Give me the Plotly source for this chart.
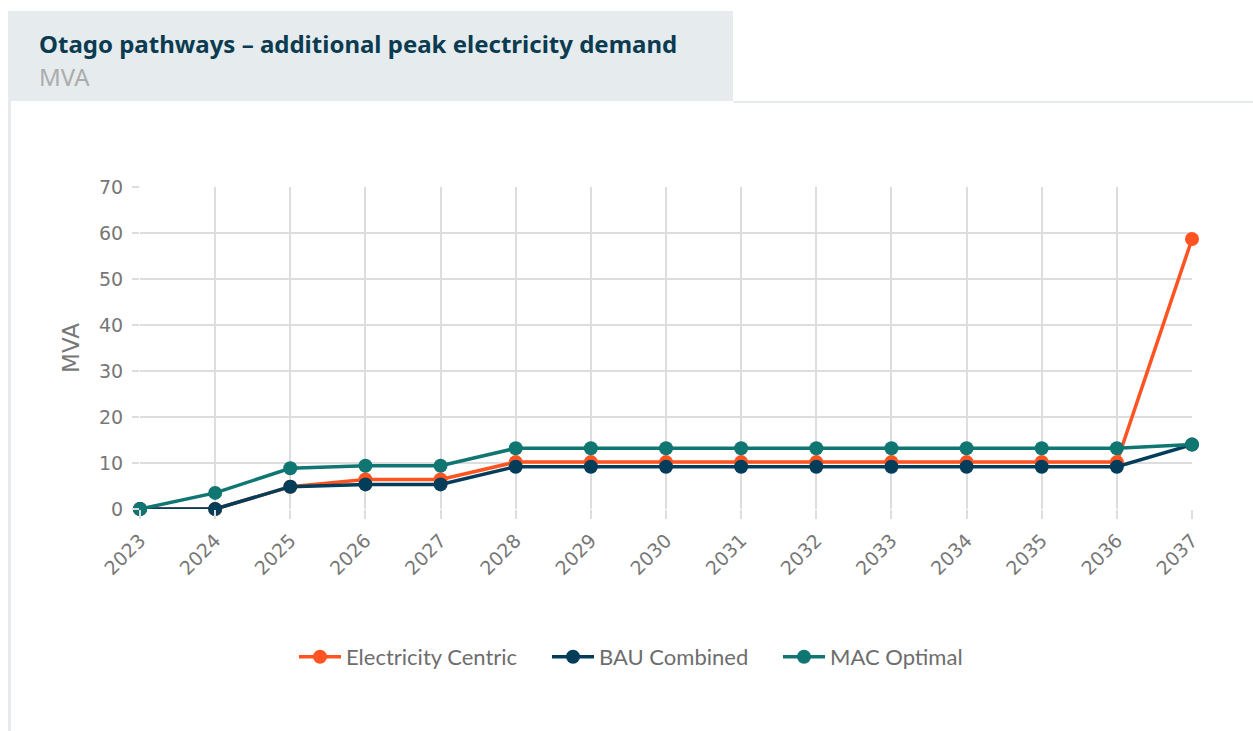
import plotly.graph_objects as go

years = list(range(2023, 2038))
electricity_centric = [0, 0, 4.85, 6.4, 6.4, 10.2, 10.2, 10.2, 10.2, 10.2, 10.2, 10.2, 10.2, 10.2, 58.7]
bau_combined = [0, 0, 4.85, 5.35, 5.35, 9.2, 9.2, 9.2, 9.2, 9.2, 9.2, 9.2, 9.2, 9.2, 14.0]
mac_optimal = [0, 3.5, 8.85, 9.4, 9.4, 13.2, 13.2, 13.2, 13.2, 13.2, 13.2, 13.2, 13.2, 13.2, 14.0]
y_ticks = [0, 10, 20, 30, 40, 50, 60, 70]

series = [
    ("Electricity Centric", electricity_centric, "#ff5421", 196),
    ("BAU Combined", bau_combined, "#033d5a", 174),
    ("MAC Optimal", mac_optimal, "#0f7672", 150),
]

W, H = 1253, 731
L, R, T, B = 140, 1192, 187, 509
pw, ph = R - L, B - T

def px(x):
    return (x - L) / pw

def py(y):
    return (B - y) / ph

TICK = "DejaVu Sans"
GRAY = "#777777"

fig = go.Figure()
for name, vals, col, lw in series:
    fig.add_trace(go.Scatter(
        x=years, y=vals, name=name, mode="lines+markers",
        line=dict(color=col, width=3.5),
        marker=dict(color=col, size=14),
        cliponaxis=False, legendwidth=lw,
    ))

shapes = [
    dict(type="rect", xref="paper", yref="paper", x0=px(8), x1=px(733), y0=py(101), y1=py(11),
         fillcolor="#e6ebee", line=dict(width=0), layer="below"),
    dict(type="rect", xref="paper", yref="paper", x0=px(8), x1=px(11), y0=py(731), y1=py(101),
         fillcolor="#e6ebee", line=dict(width=0), layer="below"),
    dict(type="rect", xref="paper", yref="paper", x0=px(733), x1=px(1253), y0=py(103), y1=py(101),
         fillcolor="#e6ebee", line=dict(width=0), layer="below"),
]

annotations = [
    dict(text="<b>Otago pathways – additional peak electricity demand</b>", xref="paper", yref="paper",
         x=px(37), y=py(43), xanchor="left", yanchor="middle", showarrow=False,
         font=dict(family="Noto Sans", size=24, color="#0b3b50")),
    dict(text="MVA", xref="paper", yref="paper",
         x=px(37), y=py(77), xanchor="left", yanchor="middle", showarrow=False,
         font=dict(family="Noto Sans", size=24, color="#acacac")),
]

fig.update_layout(
    width=W, height=H,
    margin=dict(l=L, r=W - R, t=T, b=H - B, autoexpand=False),
    paper_bgcolor="white", plot_bgcolor="white",
    shapes=shapes, annotations=annotations,
    font=dict(family=TICK, color=GRAY, size=18),
    showlegend=True,
    legend=dict(orientation="h", x=px(294), y=py(657), xanchor="left", yanchor="middle",
                font=dict(family="Lato", size=22, color="#6d6d6d"), itemwidth=42,
                tracegroupgap=0),
    xaxis=dict(
        range=[2023, 2037], tickmode="array", tickvals=years, ticktext=[str(y) for y in years],
        tickangle=-45, showgrid=True, gridcolor="#dddddd", gridwidth=2,
        ticks="outside", ticklen=9, tickwidth=2, tickcolor="#dddddd", ticklabelstandoff=3,
        showline=False, zeroline=False, tickfont=dict(family=TICK, size=19, color=GRAY),
    ),
    yaxis=dict(
        range=[0, 70], tickmode="array", tickvals=y_ticks,
        showgrid=True, gridcolor="#dddddd", gridwidth=2,
        ticks="outside", ticklen=7, tickwidth=2, tickcolor="#dddddd", ticklabelstandoff=5,
        showline=False, zeroline=False, tickfont=dict(family=TICK, size=19, color=GRAY),
        title=dict(text="MVA", font=dict(family=TICK, size=23, color=GRAY), standoff=12),
    ),
)

fig.write_html("out.html")
